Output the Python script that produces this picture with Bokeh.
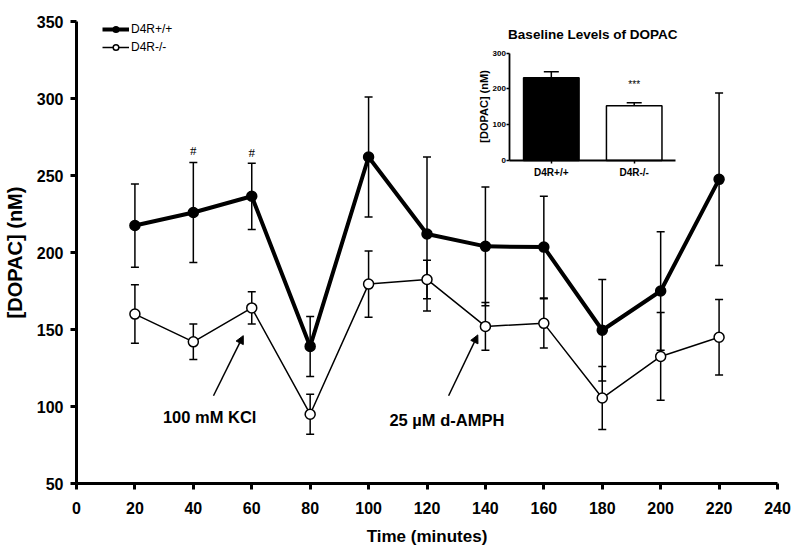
import math
from bokeh.plotting import figure
from bokeh.models import (ColumnDataSource, Whisker, TeeHead, Range1d, LinearAxis,
                          FixedTicker, Legend, LegendItem, Arrow, NormalHead)
from bokeh.embed import file_html
from bokeh.resources import INLINE
from bokeh.core.properties import value

# ---------------- data ----------------
time_min = [20, 40, 60, 80, 100, 120, 140, 160, 180, 200, 220]
wt_mean = [217.5, 226, 236.5, 139, 262, 212, 204, 203.5, 149.5, 175, 247.5]
wt_sem = [27, 32.5, 21.5, 19.5, 39, 50, 38.5, 33, 33, 38.5, 56]
ko_mean = [160, 142, 164, 95, 179.5, 182.5, 152, 154, 105.5, 132.5, 145]
ko_sem = [19, 11.5, 10.5, 13, 21.5, 12.5, 15.5, 16, 20.5, 28.5, 24.5]

x_ticks = [0, 20, 40, 60, 80, 100, 120, 140, 160, 180, 200, 220, 240]
y_ticks = [50, 100, 150, 200, 250, 300, 350]

series_labels = ["D4R+/+", "D4R-/-"]

inset_groups = ["D4R+/+", "D4R-/-"]
inset_mean = [231, 153]
inset_sem = [17, 8]
inset_ticks = [0, 100, 200, 300]

FONT = "Liberation Sans"

# ---------------- main figure ----------------
W, H = 798, 550
BL, BR, BT, BB = 75, 21, 21, 67
FW, FH = W - BL - BR, H - BT - BB

p = figure(width=W, height=H, x_range=Range1d(0, 240), y_range=Range1d(50, 350),
           output_backend="svg", toolbar_location=None,
           min_border_left=BL, min_border_right=BR, min_border_top=BT, min_border_bottom=BB)
p.outline_line_color = None
p.grid.visible = False
p.background_fill_color = "white"
p.border_fill_color = "white"

xa = p.xaxis[0]
ya = p.yaxis[0]
xa.ticker = FixedTicker(ticks=x_ticks)
ya.ticker = FixedTicker(ticks=y_ticks)
for ax in (xa, ya):
    ax.axis_line_width = 3
    ax.major_tick_line_width = 3
    ax.major_tick_out = 6
    ax.major_tick_in = 0
    ax.minor_tick_line_color = None
    ax.major_label_text_font = FONT
    ax.major_label_text_font_style = "bold"
    ax.major_label_text_font_size = "16px"
    ax.major_label_text_color = "black"
    ax.axis_label_text_font = FONT
    ax.axis_label_text_font_style = "bold"
    ax.axis_label_text_color = "black"
xa.axis_label = "Time (minutes)"
xa.axis_label_text_font_size = "17px"
xa.major_label_standoff = 12
xa.axis_label_standoff = 10
ya.axis_label = "[DOPAC] (nM)"
ya.axis_label_text_font_size = "20px"
ya.major_label_standoff = 7
ya.axis_label_standoff = 8

src_wt = ColumnDataSource(dict(x=time_min, y=wt_mean,
                               lo=[m - s for m, s in zip(wt_mean, wt_sem)],
                               hi=[m + s for m, s in zip(wt_mean, wt_sem)]))
src_ko = ColumnDataSource(dict(x=time_min, y=ko_mean,
                               lo=[m - s for m, s in zip(ko_mean, ko_sem)],
                               hi=[m + s for m, s in zip(ko_mean, ko_sem)]))

for src in (src_ko, src_wt):
    w = Whisker(base="x", lower="lo", upper="hi", source=src, line_width=1.5, line_color="black",
                upper_head=TeeHead(size=8, line_width=1.5, line_color="black"),
                lower_head=TeeHead(size=8, line_width=1.5, line_color="black"))
    p.add_layout(w)

ko_line = p.line("x", "y", source=src_ko, line_width=1.5, line_color="black")
wt_line = p.line("x", "y", source=src_wt, line_width=4, line_color="black")
ko_pts = p.scatter("x", "y", source=src_ko, size=10, marker="circle",
                   fill_color="white", line_color="black", line_width=1.5)
wt_pts = p.scatter("x", "y", source=src_wt, size=10, marker="circle",
                   fill_color="black", line_color="black", line_width=1.5)

legend = Legend(items=[LegendItem(label=series_labels[0], renderers=[wt_line, wt_pts]),
                       LegendItem(label=series_labels[1], renderers=[ko_line, ko_pts])],
                location=(26, FH - 33), border_line_color=None, background_fill_alpha=0,
                glyph_width=27, glyph_height=14, label_height=14, spacing=4, padding=0,
                margin=0, label_standoff=2, label_text_font=FONT,
                label_text_font_size="12px", label_text_color="black")
p.add_layout(legend)

# significance marks
p.text(x=[40, 60], y=[266, 265], text=["#", "#"], text_font=value("Liberation Serif"),
       text_font_size="13px", text_align="center", text_baseline="middle", text_color="black")

# treatment annotations
p.text(x=[45.6, 126.8], y=[93.5, 91.2], text=["100 mM KCl", "25 \u00b5M d-AMPH"],
       text_font=value(FONT), text_font_style="bold", text_font_size="16.5px",
       text_align="center", text_baseline="middle", text_color="black")
for xs, ys, xe, ye in [(46.9, 107, 57.1, 146), (127.4, 107, 137.4, 146.5)]:
    p.add_layout(Arrow(end=NormalHead(size=8, fill_color="black", line_color="black", line_width=1),
                       x_start=xs, y_start=ys, x_end=xe, y_end=ye,
                       line_width=1.5, line_color="black"))

# ---------------- inset (drawn in the same frame on extra ranges) ----------------
in_left, in_right = 434, 600          # px from frame left for inset x=0..2
in_top300, in_bot0 = 31.6, 139.0      # px from frame top for inset y=300 and y=0
ux = 2 / (in_right - in_left)
ix0 = -in_left * ux
uy = 300 / (in_bot0 - in_top300)
iy1 = 300 + in_top300 * uy
p.extra_x_ranges = {"ix": Range1d(ix0, ix0 + FW * ux)}
p.extra_y_ranges = {"iy": Range1d(iy1 - FH * uy, iy1)}

ipos = [0.5 + i for i in range(len(inset_groups))]
p.vbar(x=ipos, top=inset_mean, bottom=0, width=0.67,
       fill_color=["black", "white"], line_color="black", line_width=1.5,
       x_range_name="ix", y_range_name="iy")
isrc = ColumnDataSource(dict(x=ipos, lo=inset_mean,
                             hi=[m + s for m, s in zip(inset_mean, inset_sem)]))
p.add_layout(Whisker(base="x", lower="lo", upper="hi", source=isrc, line_width=1.5,
                     line_color="black", x_range_name="ix", y_range_name="iy",
                     lower_head=None,
                     upper_head=TeeHead(size=15, line_width=1.5, line_color="black")))

iya = LinearAxis(x_range_name="ix", y_range_name="iy", fixed_location=0, bounds=(0, 300),
                 ticker=FixedTicker(ticks=inset_ticks))
ixa = LinearAxis(x_range_name="ix", y_range_name="iy", fixed_location=0, bounds=(0, 2),
                 ticker=FixedTicker(ticks=ipos),
                 major_label_overrides={ipos[i]: inset_groups[i] for i in range(len(ipos))})
for ax in (iya, ixa):
    ax.axis_line_width = 1.8
    ax.major_tick_line_width = 1.5
    ax.major_tick_out = 3
    ax.major_tick_in = 0
    ax.minor_tick_line_color = None
    ax.major_label_text_font = FONT
    ax.major_label_text_font_style = "bold"
    ax.major_label_text_color = "black"
iya.major_label_text_font_size = "8px"
iya.major_label_standoff = 1
ixa.major_label_text_font_size = "10px"
ixa.major_label_standoff = 3
p.add_layout(iya, "left")
p.add_layout(ixa, "below")

p.text(x=[1.0], y=[351], text=["Baseline Levels of DOPAC"], x_range_name="ix", y_range_name="iy",
       text_font=value(FONT), text_font_style="bold", text_font_size="13.5px",
       text_align="center", text_baseline="middle", text_color="black")
p.text(x=[-0.31], y=[151], text=["[DOPAC] (nM)"], angle=math.pi / 2,
       x_range_name="ix", y_range_name="iy",
       text_font=value(FONT), text_font_style="bold", text_font_size="11px",
       text_align="center", text_baseline="middle", text_color="black")
p.text(x=[ipos[1]], y=[213], text=["***"], x_range_name="ix", y_range_name="iy",
       text_font=value(FONT), text_font_size="10px",
       text_align="center", text_baseline="middle", text_color="black")

open("out.html", "w").write(file_html(p, INLINE))
